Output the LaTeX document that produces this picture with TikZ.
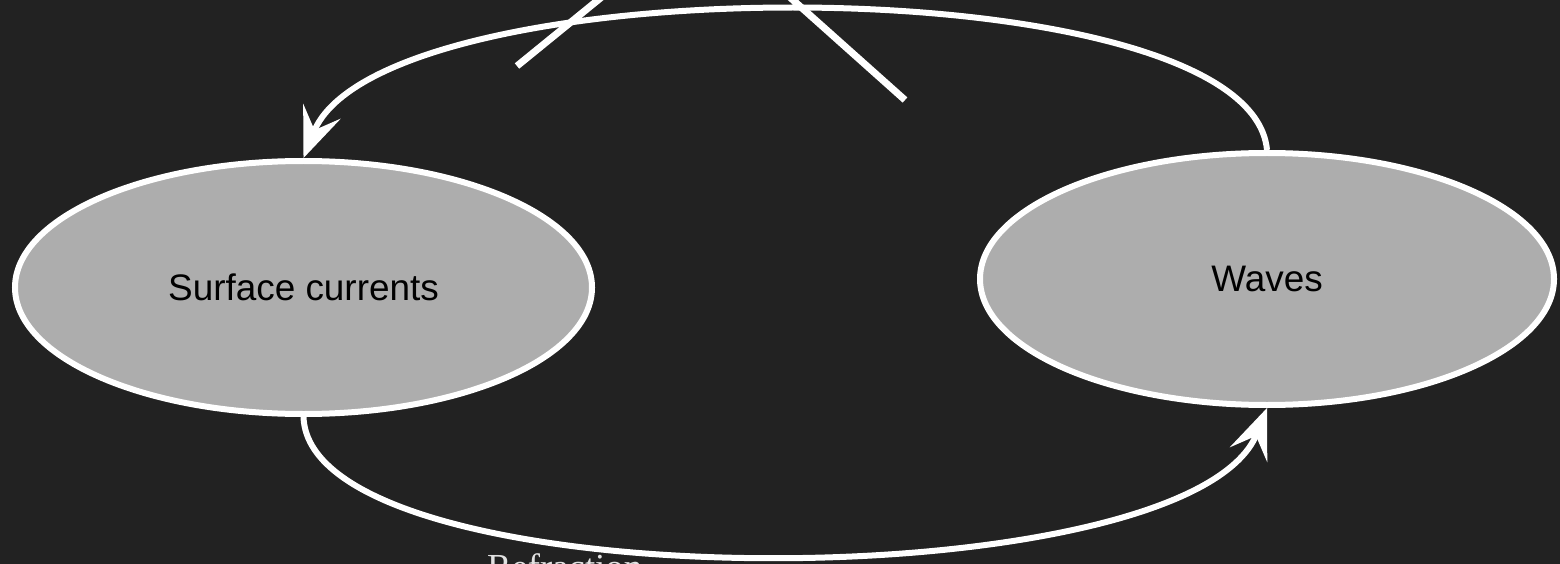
\documentclass[tikz,border=0pt]{standalone}
\usepackage{fontspec}
\setmainfont{Liberation Sans}
\newfontfamily\labelserif{Liberation Serif}
\usetikzlibrary{shapes.geometric,arrows.meta}
\definecolor{bgc}{HTML}{222222}
\definecolor{fillc}{HTML}{ADADAD}
\definecolor{lblc}{HTML}{E2E2E2}
\tikzset{
  stateell/.style={ellipse, draw=white, line width=6pt, fill=fillc, inner sep=0pt,
    minimum width=577pt, minimum height=253pt, text=black,
    font=\fontsize{36.9}{44}\selectfont},
  conn/.style={draw=white, line width=6pt,
    -{Stealth[length=50pt,width=40pt,inset=20pt]}},
  strayline/.style={draw=white, line width=7pt, line cap=butt},
  edgelabel/.style={text=lblc, inner sep=0pt, font=\labelserif\fontsize{36.7}{44}\selectfont}
}
\begin{document}
\begin{tikzpicture}[x=1pt,y=-1pt]
\fill[bgc] (0,0) rectangle (1560,564);
\useasboundingbox (0,0) rectangle (1560,564);
\clip (0,0) rectangle (1560,564);
\node[stateell] (surf) at (303.5,287.5) {Surface currents};
\node[stateell, minimum width=574pt, minimum height=252pt] (waves) at (1267,279) {Waves};
\draw[conn] (waves.north) .. controls +(-17,-187) and +(77,-195) .. (surf.north);
\draw[conn] (surf.south) .. controls +(6.5,185.5) and +(-77,194.5) .. (waves.south);
\coordinate (xa) at (517,66);
\coordinate (xt) at (700,-83);
\coordinate (xb) at (905,100);
\draw[strayline] (xa) -- (xt) -- (xb);
\node[edgelabel, anchor=base west] (refr) at (487,579) {Refraction};
\end{tikzpicture}
\end{document}
